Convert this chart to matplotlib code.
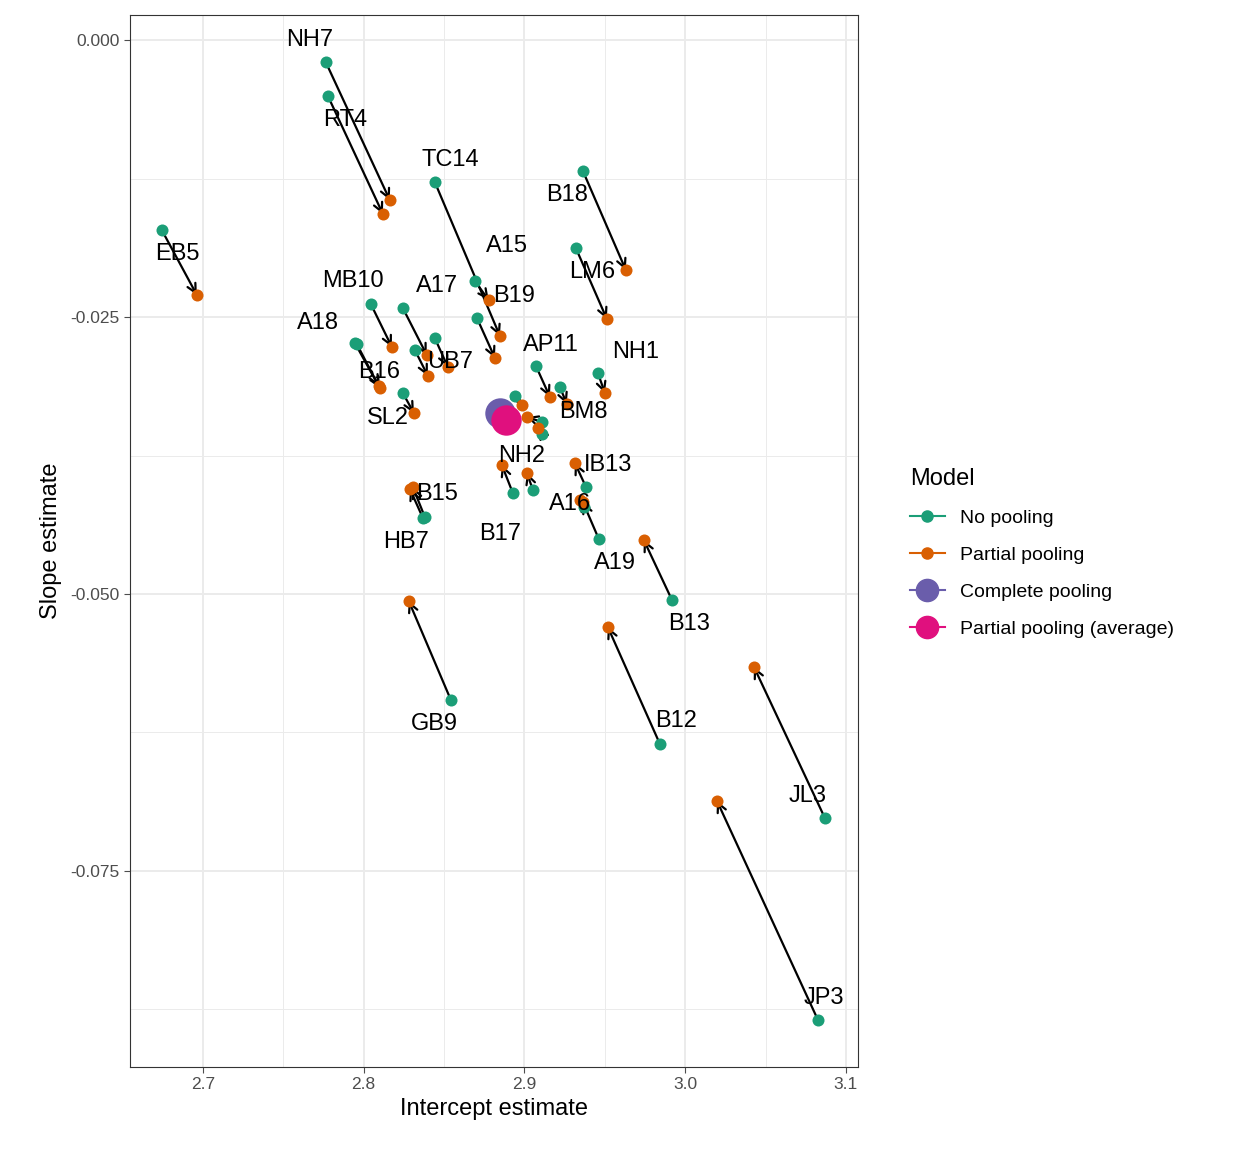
import matplotlib.pyplot as plt
from matplotlib.lines import Line2D

plt.rcParams['font.family'] = ['Liberation Sans', 'DejaVu Sans']

labels = ["NH7", "RT4", "TC14", "B18", "LM6", "EB5", "MB10", "A17", "", "UB7", "A18", "B16", "SL2",
          "A15", "B19", "AP11", "BM8", "NH1", "", "", "", "NH2", "B17", "IB13", "A16", "A19",
          "HB7", "B15", "B13", "GB9", "B12", "JL3", "JP3"]
no_pool_x = [2.7765, 2.7778, 2.8443, 2.9364, 2.9320, 2.6745, 2.8045, 2.8244, 2.8319, 2.8443, 2.7946, 2.7958, 2.8244,
             2.8692, 2.8705, 2.9072, 2.9221, 2.9457, 2.8941, 2.9109, 2.9109, 2.9053, 2.8928, 2.9383, 2.9370, 2.9463,
             2.8381, 2.8369, 2.9918, 2.8543, 2.9843, 3.0869, 3.0826]
no_pool_y = [-0.0020, -0.00505, -0.01282, -0.01182, -0.01877, -0.01715, -0.02383, -0.02419, -0.02798, -0.02690, -0.02735, -0.02744, -0.03186,
             -0.02175, -0.02509, -0.02942, -0.03132, -0.03005, -0.03213, -0.03448, -0.03556, -0.04061, -0.04088, -0.04034, -0.04215, -0.04504,
             -0.04305, -0.04314, -0.05054, -0.05957, -0.06354, -0.07022, -0.08845]
partial_x = [2.8163, 2.8120, 2.8848, 2.9631, 2.9513, 2.6963, 2.8176, 2.8393, 2.8400, 2.8524, 2.8101, 2.8095, 2.8313,
             2.8778, 2.8817, 2.9159, 2.9264, 2.9501, 2.8984, 2.9016, 2.9084, 2.9016, 2.8860, 2.9314, 2.9345, 2.9364,
             2.8306, 2.8288, 2.9743, 2.8281, 2.9519, 3.0428, 3.0198]
partial_y = [-0.01444, -0.0157, -0.02671, -0.02076, -0.02518, -0.02301, -0.02771, -0.02843, -0.03032, -0.02951, -0.03141, -0.03125, -0.03367,
             -0.02347, -0.02870, -0.03222, -0.03285, -0.03186, -0.03294, -0.03403, -0.03502, -0.03908, -0.03836, -0.03818, -0.04152, -0.04170,
             -0.04034, -0.04052, -0.04513, -0.05063, -0.05298, -0.05659, -0.06868]
complete_pool = (2.8848, -0.03366)
partial_avg = (2.8885, -0.03430)

# label offsets from the no-pooling point, in pixels
label_off = [(-16, 22), (17, -24), (16, 22), (-16, -24), (16, -24), (16, -24), (-18, 23), (34, 22), (0, 0), (15, -24),
             (-37, 20), (22, -28), (-15, -25), (32, 35), (37, 22), (15, 21), (23, -25), (38, 21), (0, 0), (0, 0), (0, 0),
             (-11, 34), (-13, -41), (22, 22), (-14, 3), (16, -24), (-19, -25), (14, 24), (17, -24), (-17, -24), (16, 23),
             (-17, 22), (6, 22)]

green, orange, purple, pink = "#1B9E77", "#D95F02", "#6A5DAB", "#E0107E"

fig = plt.figure(figsize=(12.48, 11.52), dpi=100)
ax = fig.add_axes([0.104, 0.0738, 0.5835, 0.9132])

for i in range(len(labels)):
    ax.annotate("", xy=(partial_x[i], partial_y[i]), xytext=(no_pool_x[i], no_pool_y[i]),
                arrowprops=dict(arrowstyle="->", color="black", lw=1.6, shrinkA=0, shrinkB=0,
                                mutation_scale=16), zorder=2)
ax.scatter(no_pool_x, no_pool_y, s=75, color=green, zorder=3, linewidths=0)
ax.scatter(partial_x, partial_y, s=75, color=orange, zorder=3, linewidths=0)
ax.scatter(*complete_pool, s=480, color=purple, zorder=4, linewidths=0)
ax.scatter(*partial_avg, s=480, color=pink, zorder=4, linewidths=0)

for i, lab in enumerate(labels):
    if lab:
        dx, dy = label_off[i]
        ax.annotate(lab, (no_pool_x[i], no_pool_y[i]), xytext=(dx * 0.72, dy * 0.72),
                    textcoords="offset points", ha="center", va="center", fontsize=17, zorder=5)

ax.set_xlim(2.6546, 3.1075)
ax.set_ylim(-0.09269, 0.00226)
ax.set_xticks([2.7, 2.8, 2.9, 3.0, 3.1])
ax.set_xticklabels(["2.7", "2.8", "2.9", "3.0", "3.1"])
ax.set_yticks([0.0, -0.025, -0.05, -0.075])
ax.set_yticklabels(["0.000", "-0.025", "-0.050", "-0.075"])
ax.set_xticks([2.75, 2.85, 2.95, 3.05], minor=True)
ax.set_yticks([-0.0125, -0.0375, -0.0625, -0.0875], minor=True)
ax.grid(which="major", color="#EBEBEB", lw=1.4)
ax.grid(which="minor", color="#EBEBEB", lw=0.7)
ax.tick_params(which="minor", length=0)
ax.tick_params(which="major", labelsize=12.5, colors="#4D4D4D", length=4)
ax.set_axisbelow(True)
for s in ax.spines.values():
    s.set_color("#333333")
ax.set_xlabel("Intercept estimate", fontsize=17, labelpad=4)
ax.set_ylabel("Slope estimate", fontsize=17, labelpad=6)

handles = [
    Line2D([0], [0], color=green, marker="o", markersize=8, lw=1.5),
    Line2D([0], [0], color=orange, marker="o", markersize=8, lw=1.5),
    Line2D([0], [0], color=purple, marker="o", markersize=16, lw=1.5),
    Line2D([0], [0], color=pink, marker="o", markersize=16, lw=1.5),
]
fig.legend(handles, ["No pooling", "Partial pooling", "Complete pooling", "Partial pooling (average)"],
           title="Model", loc="center left", bbox_to_anchor=(0.715, 0.52), frameon=False,
           fontsize=14, title_fontsize=17, handlelength=1.8, labelspacing=1.0, alignment="left")

fig.savefig("out.png", dpi=100)
